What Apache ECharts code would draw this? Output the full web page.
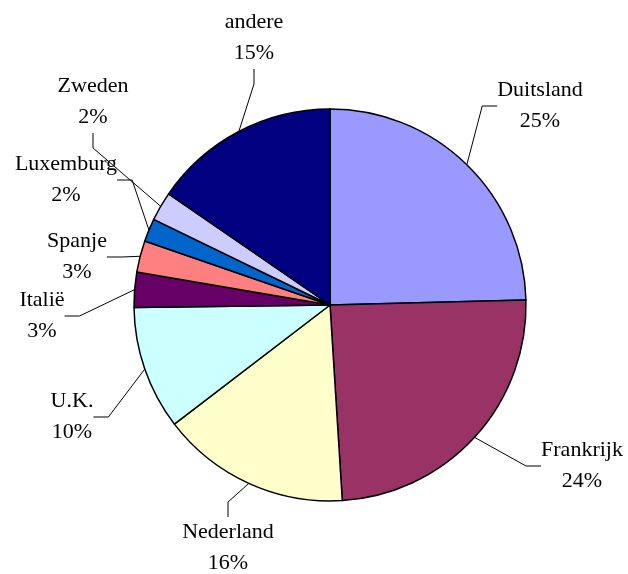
<!DOCTYPE html>
<html>
<head>
<meta charset="utf-8">
<script src="https://cdn.jsdelivr.net/npm/echarts@6/dist/echarts.min.js"></script>
<style>
  html, body { margin: 0; padding: 0; background: #fff; }
  #chart { width: 628px; height: 574px; }
</style>
</head>
<body>
<div id="chart"></div>
<script>
// landen, met de geschatte aandelen (in %)
var countries = ['Duitsland', 'Frankrijk', 'Nederland', 'U.K.', 'Italië', 'Spanje', 'Luxemburg', 'Zweden', 'andere']
var shares = [24.6, 24.4, 15.6, 10.2, 2.9, 2.6, 1.9, 2.4, 15.4]
var colors = ['#9999FF', '#993366', '#FFFFCC', '#CCFFFF', '#660066', '#FF8080', '#0066CC', '#CCCCFF', '#000080']

// plaats van de labels (midden van het tekstblok)
var labelPos = [
  [540, 106], [582, 466], [228, 548], [72, 417], [42, 316],
  [77, 257], [66, 180], [93, 102], [254, 38]
]

var chart = echarts.init(document.getElementById('chart'))

chart.setOption({
  animation: false,
  series: [
    {
      type: 'pie',
      center: [330, 305],
      radius: 196,
      startAngle: 90,
      clockwise: true,
      percentPrecision: 0,
      avoidLabelOverlap: false,
      silent: true,
      itemStyle: {
        borderColor: '#000',
        borderWidth: 1.5
      },
      label: {
        show: true,
        formatter: '{b}\n{d}%',
        fontFamily: 'Liberation Serif',
        fontSize: 22,
        lineHeight: 31,
        color: '#000',
        align: 'center'
      },
      labelLine: {
        show: true,
        length: 15,
        length2: 15,
        lineStyle: { color: '#000', width: 1 }
      },
      labelLayout: function (params) {
        var p = labelPos[params.dataIndex]
        return { x: p[0], y: p[1], align: 'center', verticalAlign: 'middle' }
      },
      data: countries.map(function (name, i) {
        return { name: name, value: shares[i], itemStyle: { color: colors[i] } }
      })
    }
  ]
})
</script>
</body>
</html>
